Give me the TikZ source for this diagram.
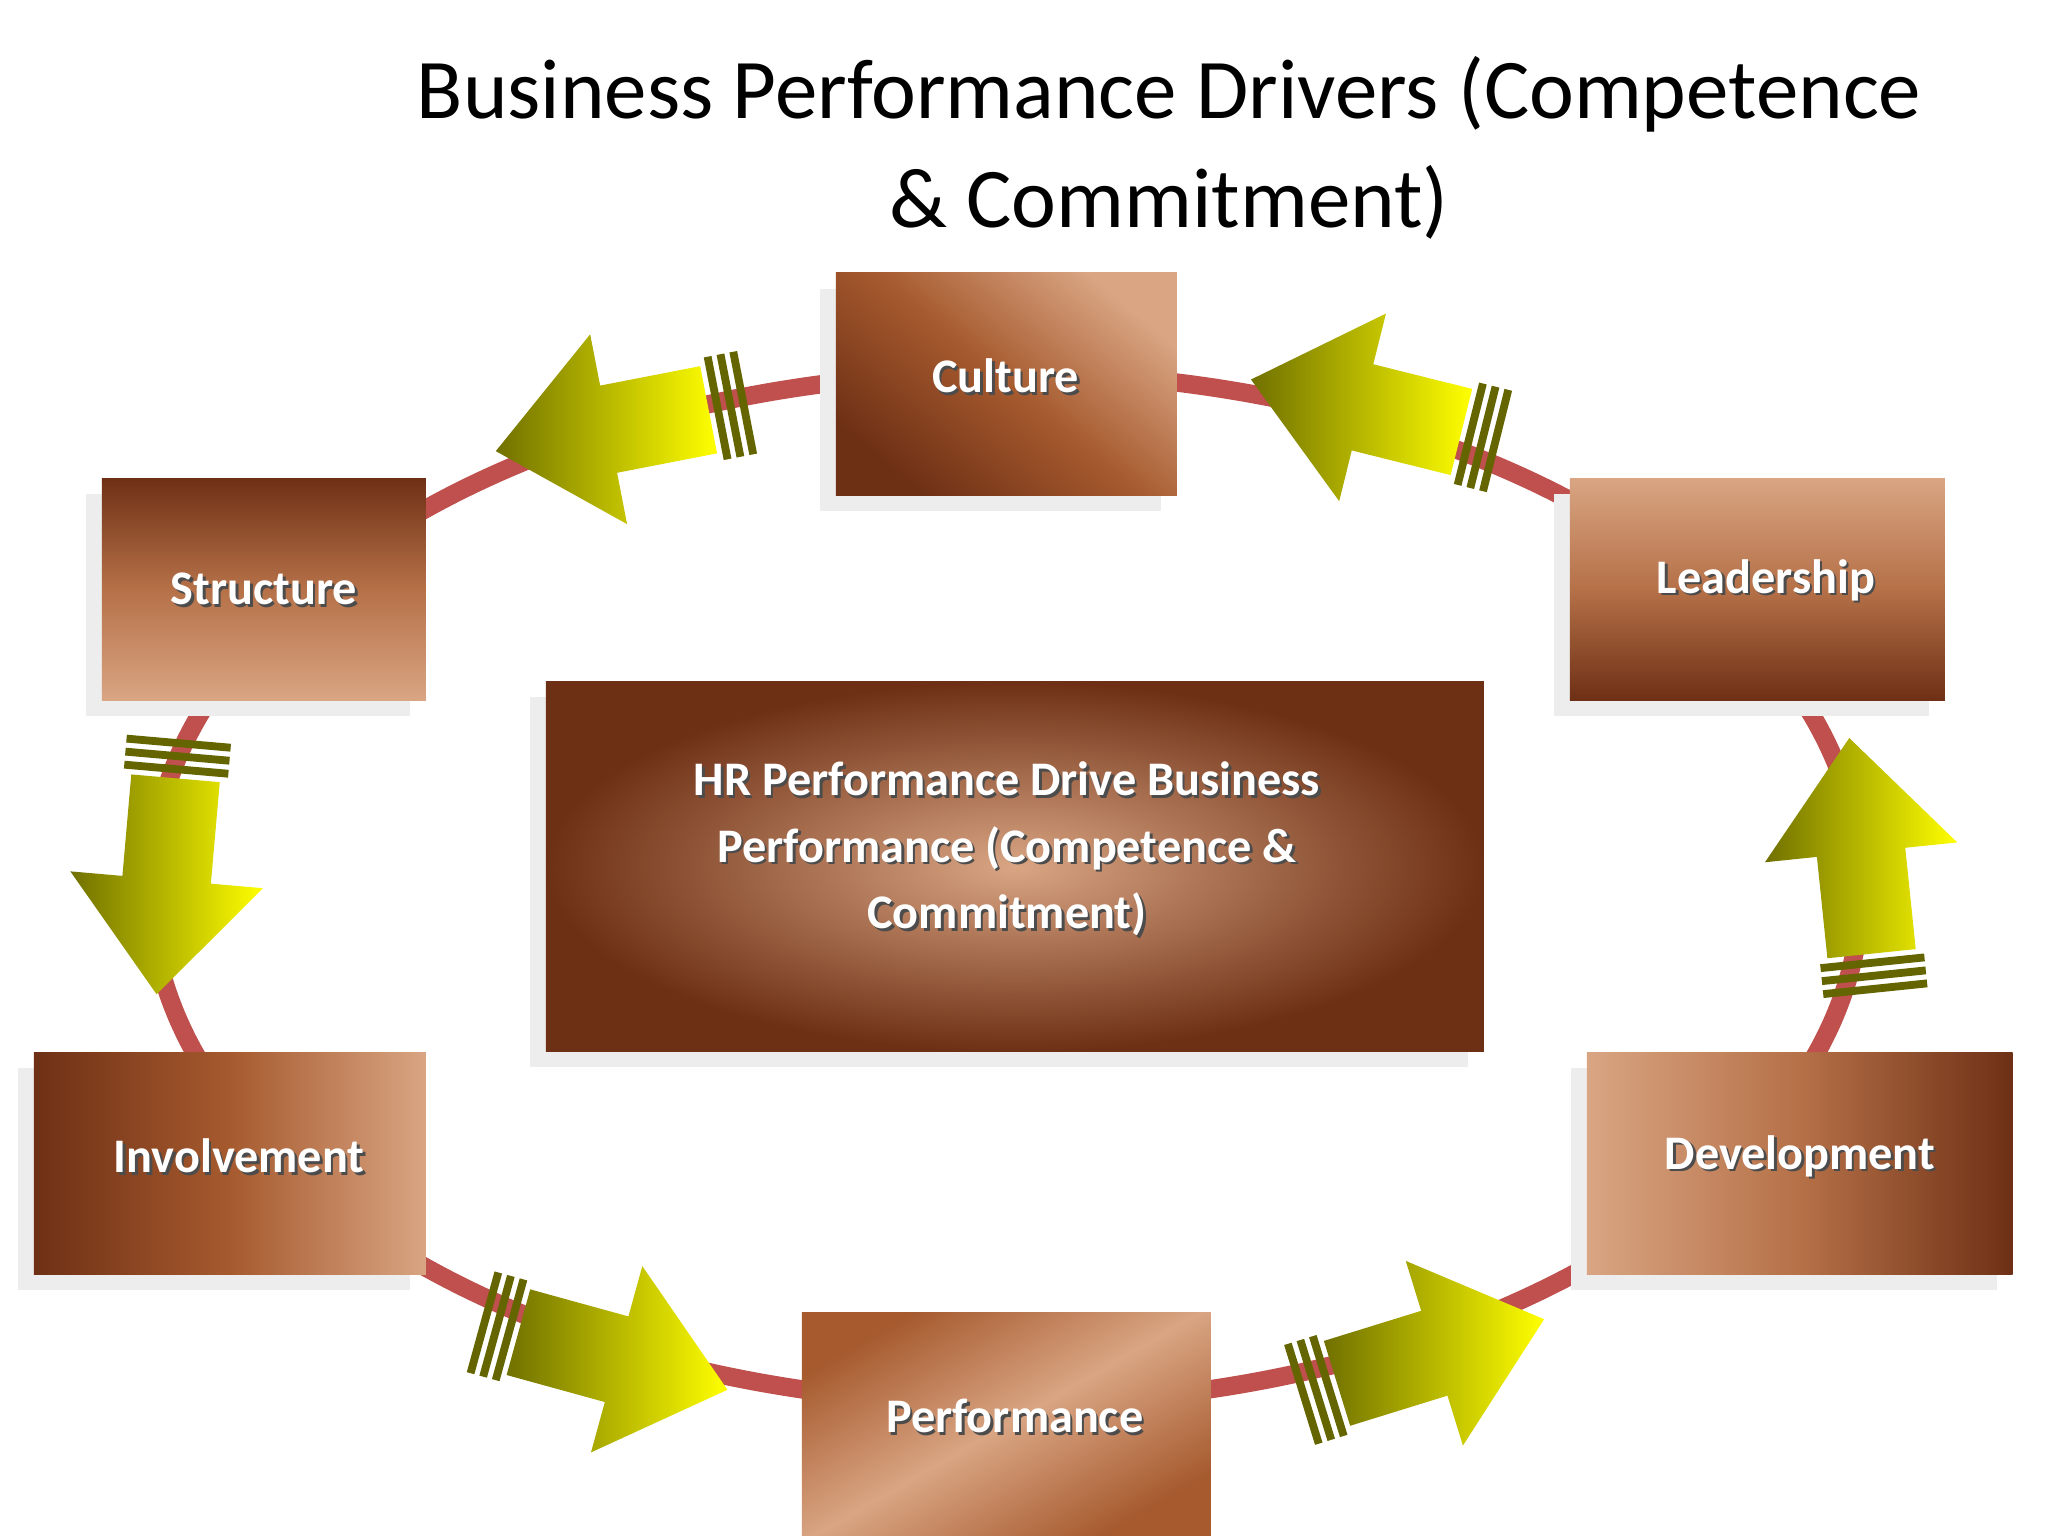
\documentclass[tikz,border=0pt]{standalone}
\usepackage{fontspec}
\setmainfont{Carlito}
\begin{document}
\begin{tikzpicture}[x=0.01cm,y=-0.01cm]
\definecolor{dk}{HTML}{6E3015}
\definecolor{md}{HTML}{A65A2E}
\definecolor{lt}{HTML}{D9A583}
\definecolor{ring}{HTML}{C0504D}
\definecolor{olv}{HTML}{707000}
\definecolor{ylw}{HTML}{FFFF00}
\tikzset{
  shadowbox/.style={fill=black!7},
  lbl/.style={text=white,font=\fontsize{10.5}{14.5}\selectfont\bfseries,align=center},
  lblsh/.style={text=black!70,font=\fontsize{10.5}{14.5}\selectfont\bfseries,align=center},
  arrbody/.style={shading=axis,left color=olv,right color=ylw,draw=none},
  stripe/.style={fill=olv!90!black,draw=none}
}
\newcommand{\shtext}[4]{%
  \node[lblsh] at (#1+2,#2+2) {#4};
  \node[lbl] (#3) at (#1,#2) {#4};}
\newcommand{\blockarrow}[3]{% tail x,y ; angle
  \begin{scope}[shift={(#1,#2)},rotate=#3]
    \fill[stripe] (0,-40) rectangle (6,40);
    \fill[stripe] (10,-40) rectangle (16,40);
    \fill[stripe] (20,-40) rectangle (26,40);
    \path[arrbody] (30,-34) -- (108,-34) -- (108,-74) -- (196,0) -- (108,74) -- (108,34) -- (30,34) -- cycle;
  \end{scope}}
\useasboundingbox (0,0) rectangle (1568,1176);
\fill[white] (0,0) rectangle (1568,1176);
% title
\node[font=\fontsize{18.5}{23}\selectfont] (t1) at (895,72) {Business Performance Drivers (Competence};
\node[font=\fontsize{18.5}{23}\selectfont] (t2) at (895,155) {\& Commitment)};
% ring
\draw[ring,line width=4pt] (770,680) ellipse [x radius=655,y radius=395];
% shadows
\fill[shadowbox] (628,221) rectangle (889,391);
\fill[shadowbox] (66,378) rectangle (314,548);
\fill[shadowbox] (1190,378) rectangle (1477,548);
\fill[shadowbox] (14,818) rectangle (314,988);
\fill[shadowbox] (1203,818) rectangle (1529,988);
\fill[shadowbox] (406,534) rectangle (1124,817);
% boxes
\path[shading=axis,top color=lt,bottom color=dk,middle color=md,shading angle=-40] (640,209) rectangle (901,379);
\path[top color=dk,bottom color=lt,middle color=md!70!lt] (78,366) rectangle (326,536);
\path[top color=lt,bottom color=dk,middle color=md!70!lt] (1202,366) rectangle (1489,536);
\path[left color=dk,right color=lt,middle color=md] (26,806) rectangle (326,976);
\path[left color=lt,right color=dk,middle color=md!70!lt] (1215,806) rectangle (1541,976);
\path[left color=md,right color=md,middle color=lt,shading angle=30] (614,1005) rectangle (927,1176);
\path[inner color=lt,outer color=dk] (418,522) rectangle (1136,805);
% labels
\shtext{770}{288}{culture}{Culture}
\shtext{202}{451}{structure}{Structure}
\shtext{1352}{444}{leadership}{Leadership}
\shtext{183}{885}{involvement}{Involvement}
\shtext{1378}{885}{development}{Development}
\shtext{777}{1084}{performance}{Performance}
\shtext{771}{650}{center}{HR Performance Drive Business\\Performance (Competence \&\\Commitment)}
% arrows
\blockarrow{572}{308}{191}
\blockarrow{1148}{338}{166}
\blockarrow{137}{566}{265}
\blockarrow{368}{1012}{-15.4}
\blockarrow{995}{1068}{17.2}
\blockarrow{1436}{760}{95.9}
\end{tikzpicture}
\end{document}
